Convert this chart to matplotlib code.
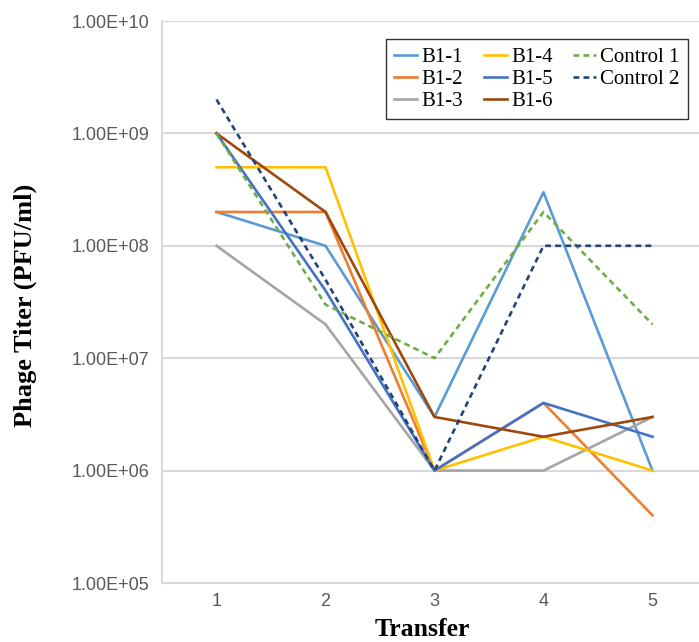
import matplotlib
matplotlib.use("Agg")
import matplotlib.pyplot as plt
from matplotlib import font_manager as fm
from matplotlib.ticker import FixedLocator, FixedFormatter, NullLocator

names = {f.name for f in fm.fontManager.ttflist}
tick_font = "Liberation Sans Narrow" if "Liberation Sans Narrow" in names else "Liberation Sans"

transfers = [1, 2, 3, 4, 5]
series_names = ["B1-1", "B1-2", "B1-3", "B1-4", "B1-5", "B1-6", "Control 1", "Control 2"]
b1_1 = [2e8, 1e8, 3e6, 3e8, 1e6]
b1_2 = [2e8, 2e8, 1e6, 4e6, 4e5]
b1_3 = [1e8, 2e7, 1e6, 1e6, 3e6]
b1_4 = [5e8, 5e8, 1e6, 2e6, 1e6]
b1_5 = [1e9, 4e7, 1e6, 4e6, 2e6]
b1_6 = [1e9, 2e8, 3e6, 2e6, 3e6]
control_1 = [1e9, 3e7, 1e7, 2e8, 2e7]
control_2 = [2e9, 5e7, 1e6, 1e8, 1e8]
values = [b1_1, b1_2, b1_3, b1_4, b1_5, b1_6, control_1, control_2]
colors = ["#5B9BD5", "#ED7D31", "#A5A5A5", "#FFC000", "#4472C4", "#9E480E", "#70AD47", "#264478"]
styles = ["-", "-", "-", "-", "-", "-", (0, (2.2, 1.6)), (0, (2.2, 1.6))]
y_ticks = [1e5, 1e6, 1e7, 1e8, 1e9, 1e10]
y_tick_labels = ["1.00E+05", "1.00E+06", "1.00E+07", "1.00E+08", "1.00E+09", "1.00E+10"]

fig = plt.figure(figsize=(6.99, 6.42), dpi=100)
ax = fig.add_axes([162 / 699, 1 - 583 / 642, (707 - 162) / 699, (583 - 21) / 642])

for name, vals, c, ls in zip(series_names, values, colors, styles):
    ax.plot(transfers, vals, color=c, linestyle=ls, linewidth=1.9, label=name)

ax.set_yscale("log")
ax.set_ylim(1e5, 1e10)
ax.set_xlim(0.5, 5.5)
ax.yaxis.set_major_locator(FixedLocator(y_ticks))
ax.yaxis.set_major_formatter(FixedFormatter(y_tick_labels))
ax.yaxis.set_minor_locator(NullLocator())
ax.set_xticks(transfers)
ax.set_xticklabels([str(t) for t in transfers])
ax.grid(axis="y", color="#D9D9D9", linewidth=1.5)
ax.set_axisbelow(True)
for s in ["top", "right"]:
    ax.spines[s].set_visible(False)
for s in ["left", "bottom"]:
    ax.spines[s].set_color("#D9D9D9")
    ax.spines[s].set_linewidth(1.5)
ax.tick_params(axis="both", length=0, labelcolor="#595959", labelsize=13)
ax.tick_params(axis="y", pad=9)
ax.tick_params(axis="x", pad=7)
for lab in ax.get_xticklabels() + ax.get_yticklabels():
    lab.set_fontfamily(tick_font)

fig.text(25 / 699, 1 - 305 / 642, "Phage Titer (PFU/ml)", family="Liberation Serif", fontweight="bold",
         fontsize=19, rotation=90, ha="center", va="center")
fig.text(422 / 699, 1 - 636 / 642, "Transfer", family="Liberation Serif", fontweight="bold",
         fontsize=18.5, ha="center", va="baseline")

leg = ax.legend(ncol=3, loc="upper left", bbox_to_anchor=(386 / 699, 1 - 39 / 642), bbox_transform=fig.transFigure,
                prop={"family": "Liberation Serif", "size": 15}, frameon=True, fancybox=False,
                edgecolor="black", handlelength=1.1, handletextpad=0.2, columnspacing=1.0,
                labelspacing=0.12, borderpad=0.4, borderaxespad=0)
leg.get_frame().set_linewidth(1.0)

fig.savefig("out.png", dpi=100)
